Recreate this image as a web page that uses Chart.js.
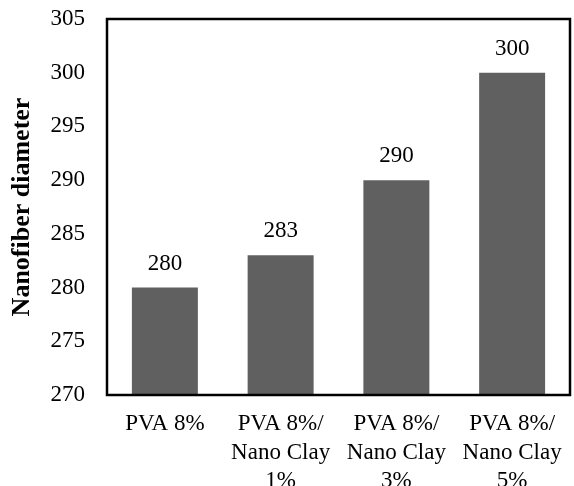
<!DOCTYPE html>
<html>
<head>
<meta charset="utf-8">
<script src="https://cdn.jsdelivr.net/npm/chart.js@4.4.1/dist/chart.umd.min.js"></script>
<style>
  html, body { margin: 0; padding: 0; background: #fff; overflow: hidden; }
  #wrap { width: 574px; height: 500px; }
</style>
</head>
<body>
<div id="wrap"><canvas id="myChart"></canvas></div>
<script>
const categorias = ["PVA 8%", ["PVA 8%/", "Nano Clay", "1%"], ["PVA 8%/", "Nano Clay", "3%"], ["PVA 8%/", "Nano Clay", "5%"]];
const diametros = [280, 283, 290, 300];
const yTicks = [270, 275, 280, 285, 290, 295, 300, 305];

const fuente = "'Liberation Serif', 'Times New Roman', serif";

// marco negro alrededor del area del grafico
const marco = {
  id: "marco",
  afterDraw(chart) {
    const a = chart.chartArea, ctx = chart.ctx;
    ctx.save();
    ctx.strokeStyle = "#000";
    ctx.lineWidth = 2.5;
    ctx.strokeRect(a.left, a.top, a.right - a.left, a.bottom - a.top);
    ctx.restore();
  }
};

// valores encima de cada barra
const etiquetas = {
  id: "etiquetas",
  afterDatasetsDraw(chart) {
    const ctx = chart.ctx;
    const meta = chart.getDatasetMeta(0);
    ctx.save();
    ctx.font = "23px " + fuente;
    ctx.fillStyle = "#000";
    ctx.textAlign = "center";
    ctx.textBaseline = "middle";
    meta.data.forEach((bar, i) => {
      ctx.fillText(diametros[i], bar.x, bar.y - 24);
    });
    ctx.restore();
  }
};

new Chart("myChart", {
  type: "bar",
  data: {
    labels: categorias,
    datasets: [{
      data: diametros,
      backgroundColor: "#606060",
      barPercentage: 0.57,
      categoryPercentage: 1
    }]
  },
  options: {
    responsive: true,
    maintainAspectRatio: false,
    animation: false,
    layout: { padding: { top: 19, right: 4, left: 0, bottom: 0 } },
    plugins: { legend: { display: false }, tooltip: { enabled: false } },
    scales: {
      x: {
        grid: { display: false, drawTicks: false },
        border: { display: false },
        afterFit(axis) { axis.height = 105; axis.paddingLeft = 0; axis.paddingRight = 0; },
        ticks: {
          color: "#000",
          padding: 15,
          maxRotation: 0,
          autoSkip: false,
          font: { family: fuente, size: 23, lineHeight: 1.24 }
        }
      },
      y: {
        min: 270,
        max: 305,
        afterBuildTicks(axis) { axis.ticks = yTicks.map(v => ({ value: v })); },
        afterFit(axis) { axis.width = 107; axis.paddingTop = 0; axis.paddingBottom = 0; },
        grid: { display: false, drawTicks: false },
        border: { display: false },
        title: {
          display: true,
          text: "Nanofiber diameter",
          color: "#000",
          padding: { top: 7, bottom: 0 },
          font: { family: fuente, size: 26, weight: "bold" }
        },
        ticks: {
          color: "#000",
          padding: 22,
          font: { family: fuente, size: 23 }
        }
      }
    }
  },
  plugins: [marco, etiquetas]
});
</script>
</body>
</html>
